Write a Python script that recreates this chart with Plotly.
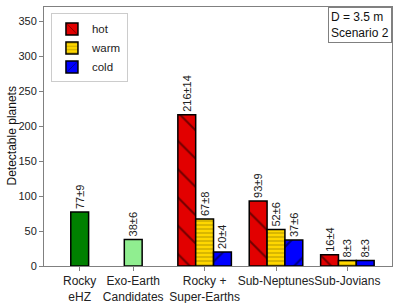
import plotly.graph_objects as go

categories = ["Rocky<br>eHZ", "Exo-Earth<br>Candidates", "Rocky +<br>Super-Earths", "Sub-Neptunes", "Sub-Jovians"]
cat_pos = [0, 0.75, 1.75, 2.75, 3.75]

single_vals = [77, 38]
single_err = [9, 6]
single_colors = ["#008000", "#90EE90"]

group_cats = [2, 3, 4]
hot_vals = [216, 93, 16]
hot_err = [14, 9, 4]
warm_vals = [67, 52, 8]
warm_err = [8, 6, 3]
cold_vals = [20, 37, 8]
cold_err = [4, 6, 3]

yticks = [0, 50, 100, 150, 200, 250, 300, 350]
bw = 0.25
font = "Liberation Sans, Arial, sans-serif"

fig = go.Figure()

fig.add_trace(go.Bar(
    x=cat_pos[:2], y=single_vals, width=bw,
    marker=dict(color=single_colors, line=dict(color="black", width=1.5)),
    text=[f"{v}±{e}" for v, e in zip(single_vals, single_err)],
    textposition="outside", textangle=-90, cliponaxis=False, constraintext="none",
    textfont=dict(size=11, color="#222"), showlegend=False,
))

series = [
    ("hot", hot_vals, hot_err, "#e20000", "\\", -bw, 20),
    ("warm", warm_vals, warm_err, "#FFD700", "-", 0, 4),
    ("cold", cold_vals, cold_err, "#0000FF", "/", bw, 20),
]
for name, vals, errs, col, shape, off, sz in series:
    fig.add_trace(go.Bar(
        name=name,
        x=[cat_pos[c] + off for c in group_cats], y=vals, width=bw,
        marker=dict(color=col, line=dict(color="black", width=1.5),
                    pattern=dict(shape=shape, fgcolor="black", bgcolor=col,
                                 size=sz, solidity=0.1 if sz > 10 else 0.15)),
        text=[f"{v}±{e}" for v, e in zip(vals, errs)],
        textposition="outside", textangle=-90, cliponaxis=False, constraintext="none",
        textfont=dict(size=11, color="#222"),
    ))

fig.update_layout(
    width=399, height=303,
    margin=dict(l=44, r=7, t=7, b=37, autoexpand=False),
    barmode="overlay",
    plot_bgcolor="white", paper_bgcolor="white",
    font=dict(family=font, size=11, color="#222"),
    showlegend=True,
    legend=dict(x=0.02, y=0.975, xanchor="left", yanchor="top",
                bordercolor="#cccccc", borderwidth=1, bgcolor="white",
                font=dict(size=11.5), tracegroupgap=0, itemwidth=30),
)
fig.update_xaxes(
    range=[-0.5, 4.375], tickvals=cat_pos, ticktext=categories, tickangle=0,
    automargin=False,
    showgrid=False, zeroline=False, showline=True, mirror=True,
    linecolor="#808080", linewidth=1, ticks="outside", ticklen=4,
    tickcolor="#808080", tickfont=dict(size=12, color="#222"),
)
fig.update_yaxes(
    range=[0, 370], tickvals=yticks, automargin=False,
    showgrid=False, zeroline=False, showline=True, mirror=True,
    linecolor="#808080", linewidth=1, ticks="outside", ticklen=4,
    tickcolor="#808080", tickfont=dict(size=11, color="#222"),
)
fig.add_annotation(
    xref="paper", yref="paper", x=0, y=0.5, xanchor="center", yanchor="middle",
    xshift=-33, textangle=-90, text="Detectable planets", showarrow=False,
    font=dict(size=12, color="#111"),
)
fig.add_annotation(
    xref="paper", yref="paper", x=1, y=1, xanchor="right", yanchor="top",
    text="D = 3.5 m<br>Scenario 2", showarrow=False, align="left",
    bordercolor="#808080", borderwidth=1, borderpad=2, bgcolor="white",
    font=dict(size=12, color="#111"),
)

fig.write_html("out.html", config={"displayModeBar": False})
with open("out.html", encoding="utf-8") as f:
    html = f.read()
html = html.replace("<body>", '<body style="margin:0;padding:0;overflow:hidden">', 1)
with open("out.html", "w", encoding="utf-8") as f:
    f.write(html)
